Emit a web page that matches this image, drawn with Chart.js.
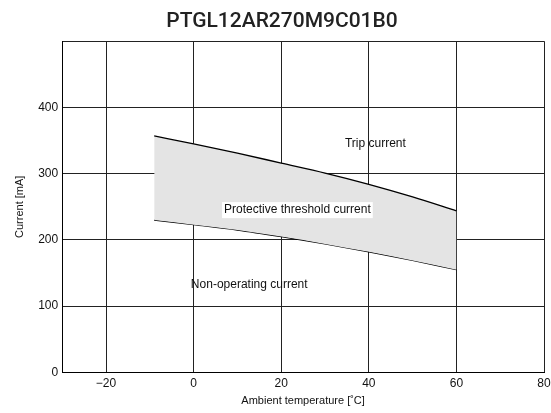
<!DOCTYPE html>
<html>
<head>
<meta charset="utf-8">
<script src="https://cdn.jsdelivr.net/npm/chart.js@4/dist/chart.umd.min.js"></script>
<style>
  html, body { margin: 0; padding: 0; background: #fff; }
  #wrap { width: 551px; height: 413px; }
</style>
</head>
<body>
<div id="wrap"><canvas id="chart"></canvas></div>
<script>
const temps = [-9, 0, 10, 20, 30, 40, 50, 60];
const tripCurrent = [357, 345, 331, 316, 301, 284, 265, 244];
const nonOperatingCurrent = [230, 223, 215, 205, 194, 182, 169, 155];
const xTicks = [-20, 0, 20, 40, 60, 80];
const yTicks = [0, 100, 200, 300, 400, 500];

// curve labels: text, x (°C), y (mA)
const curveLabels = [
    { text: 'Trip current', x: 41.5, y: 345, box: false },
    { text: 'Protective threshold current', x: 23.7, y: 245, box: true },
    { text: 'Non-operating current', x: 12.7, y: 133, box: false }
];

const FONT = '"Liberation Sans", Arial, sans-serif';
const toPoints = (xs, ys) => xs.map((x, i) => ({ x: x, y: ys[i] }));

// draws the curve names on top, through the chart's scales
const labelPlugin = {
    id: 'curveLabels',
    afterDatasetsDraw(chart) {
        const ctx = chart.ctx;
        const xs = chart.scales.x, ys = chart.scales.y;
        ctx.save();
        ctx.font = '12px ' + FONT;
        ctx.textAlign = 'center';
        ctx.textBaseline = 'middle';
        curveLabels.forEach(l => {
            const px = xs.getPixelForValue(l.x);
            const py = ys.getPixelForValue(l.y);
            if (l.box) {
                const w = ctx.measureText(l.text).width;
                ctx.fillStyle = '#fff';
                ctx.fillRect(px - w / 2 - 2, py - 8, w + 4, 16);
            }
            ctx.fillStyle = '#111';
            ctx.fillText(l.text, px, py);
        });
        ctx.restore();
    }
};

new Chart(document.getElementById('chart'), {
    type: 'line',
    data: {
        datasets: [
            {
                label: 'Trip current',
                data: toPoints(temps, tripCurrent),
                borderColor: '#000',
                borderWidth: 1.3,
                pointRadius: 0,
                cubicInterpolationMode: 'monotone',
                fill: '+1',
                backgroundColor: '#e4e4e4'
            },
            {
                label: 'Non-operating current',
                data: toPoints(temps, nonOperatingCurrent),
                borderColor: '#000',
                borderWidth: 1.3,
                pointRadius: 0,
                cubicInterpolationMode: 'monotone',
                fill: false
            }
        ]
    },
    options: {
        responsive: true,
        maintainAspectRatio: false,
        animation: false,
        layout: { padding: { left: 13, right: 0, top: 0, bottom: 5 } },
        plugins: {
            legend: { display: false },
            tooltip: { enabled: false },
            title: {
                display: true,
                text: 'PTGL12AR270M9C01B0',
                color: '#222',
                font: { family: 'Roboto, sans-serif', size: 21, weight: '500' },
                padding: { top: 9, bottom: 7 }
            }
        },
        scales: {
            x: {
                type: 'linear',
                min: -30,
                max: 80,
                afterBuildTicks: s => { s.ticks = xTicks.map(v => ({ value: v })); },
                // keep only half of the "80" label as right-hand room
                afterFit: s => { s.paddingRight = 7; },
                grid: { color: '#222', lineWidth: 1, drawTicks: false },
                border: { color: '#000', width: 1 },
                ticks: {
                    color: '#111',
                    padding: 4,
                    maxRotation: 0,
                    font: { family: FONT, size: 12 },
                    callback: v => v < 0 ? '\u2212' + Math.abs(v) : String(v)
                },
                title: {
                    display: true,
                    text: 'Ambient temperature [\u02daC]',
                    color: '#111',
                    font: { family: FONT, size: 11 },
                    padding: { top: 0, bottom: 0 }
                }
            },
            y: {
                min: 0,
                max: 500,
                afterBuildTicks: s => { s.ticks = yTicks.map(v => ({ value: v })); },
                grid: { color: '#222', lineWidth: 1, drawTicks: false },
                border: { color: '#000', width: 1 },
                ticks: {
                    color: '#111',
                    padding: 4,
                    font: { family: FONT, size: 12 },
                    callback: v => v === 500 ? '' : String(v)
                },
                title: {
                    display: true,
                    text: 'Current [mA]',
                    color: '#111',
                    font: { family: FONT, size: 11 },
                    padding: { top: 0, bottom: 8 }
                }
            }
        }
    },
    plugins: [labelPlugin]
});
</script>
</body>
</html>
